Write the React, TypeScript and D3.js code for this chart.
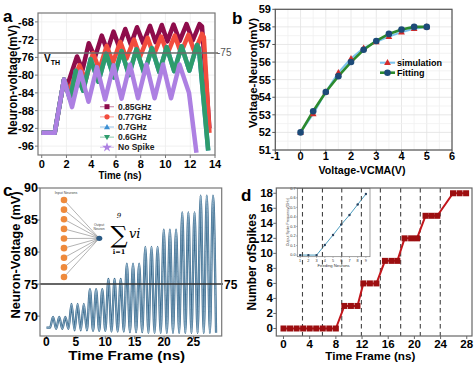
import React from 'react';
import * as d3 from 'd3';

const FONT = '"Liberation Sans", Arial, Helvetica, sans-serif';
const SERIF = '"DejaVu Serif", "Liberation Serif", serif';

// ---------------- Panel a ----------------
const aXTicks = [0, 2, 4, 6, 8, 10, 12, 14];
const aYTicks = [-68, -72, -76, -80, -84, -88, -92, -96];
const aLegend = ['0.85GHz', '0.77GHz', '0.7GHz', '0.6GHz', 'No Spike'];
const aColors = ['#8e0c4b', '#f24c3d', '#3b8fd3', '#2e9c6c', '#ad80e2'];
const aThreshold = -75;

const t085 = [0, 1.05, 1.8, 2.05, 2.85, 3.3, 3.8, 4.3, 4.85, 5.3, 5.8, 6.25, 6.75, 7.2, 7.7, 8.2, 8.75, 9.2, 9.7, 10.15, 10.65, 11.15, 11.7, 12.2, 12.75, 12.95, 13.55];
const v085 = [-93, -93, -81, -82.5, -75.8, -78.8, -72.8, -76, -71.1, -74.5, -70.2, -73.6, -69.6, -73.1, -69.2, -72.8, -68.9, -72.6, -68.7, -72.4, -68.6, -72.3, -68.5, -72.2, -68.5, -69, -92];

const t077 = [0, 1.05, 1.8, 2.2, 3.05, 3.55, 4.15, 4.65, 5.25, 5.75, 6.35, 6.85, 7.45, 7.95, 8.55, 9.05, 9.65, 10.15, 10.75, 11.25, 11.85, 12.35, 12.95, 13.1, 13.55];
const v077 = [-93, -93, -81, -83.5, -77.8, -81.2, -75, -78.8, -73.4, -77.2, -72.5, -76.3, -72, -75.8, -71.6, -75.5, -71.3, -75.2, -71.1, -75, -70.9, -74.8, -70.7, -71.5, -93];

const t070 = [0, 1.05, 1.8, 2.3, 2.75, 3.35, 3.95, 4.58, 5.2, 5.83, 6.45, 7.05, 7.65, 8.28, 8.9, 9.5, 10.1, 10.7, 11.3, 11.93, 12.55, 12.7, 13.45];
const v070 = [-93, -93, -81, -85.5, -79, -83.5, -76.4, -81.5, -75.2, -80.5, -74.6, -80, -74.2, -79.6, -73.9, -79.3, -73.7, -79.1, -73.5, -79, -73.2, -74, -97];

const t060 = [0, 1.05, 1.8, 2.3, 2.75, 3.35, 3.95, 4.58, 5.2, 5.83, 6.45, 7.05, 7.65, 8.28, 8.9, 9.5, 10.1, 10.7, 11.3, 11.93, 12.55, 12.7, 13.45];
const v060 = [-93, -93, -81, -85.5, -79, -83.5, -76.4, -81.5, -75.2, -80.5, -74.6, -80, -74.2, -79.6, -73.9, -79.3, -73.7, -79.1, -73.5, -79, -73.2, -74, -97];

const tNo = [0, 1.05, 1.8, 2.45, 3.13, 3.78, 4.46, 5.12, 5.8, 6.45, 7.13, 7.78, 8.46, 9.12, 9.8, 10.45, 11.13, 11.9, 12.5];
const vNo = [-93, -93, -81, -87.2, -79.2, -86, -78.2, -85.5, -77.8, -85.3, -77.6, -85.2, -77.6, -85.2, -77.6, -85.2, -77.6, -84, -97.5];

// ---------------- Panel b ----------------
const bXTicks = [-1, 0, 1, 2, 3, 4, 5, 6];
const bYTicks = [51, 52, 53, 54, 55, 56, 57, 58, 59];
const bVcma = [0, 0.5, 1, 1.5, 2, 2.5, 3, 3.5, 4, 4.5, 5];
const bSimulation = [52.0, 53.05, 54.3, 55.4, 56.2, 56.8, 57.15, 57.45, 57.7, 57.9, 58.0];
const bFitting = [52.0, 53.2, 54.3, 55.2, 56.0, 56.7, 57.2, 57.6, 57.85, 58.0, 58.0];

// ---------------- Panel c ----------------
const cXTicks = [0, 5, 10, 15, 20, 25];
const cYTicks = [70, 75, 80, 85, 90];
const cThreshold = 75;
const cPeakT = [1.12, 2.17, 3.21, 4.26, 5.3, 6.35, 7.4, 8.44, 9.49, 10.53, 11.58, 12.63, 13.67, 14.72, 15.76, 16.81, 17.86, 18.9, 19.95, 20.99, 22.04, 23.09, 24.13, 25.18, 26.22, 27.27, 28.32];
const cPeakV = [69.9, 69.9, 69.9, 71.9, 71.9, 71.9, 74.2, 74.2, 74.2, 75.8, 75.8, 75.8, 78.2, 78.2, 78.2, 80.8, 80.8, 80.8, 83.5, 83.5, 83.5, 86.2, 86.2, 86.2, 88.8, 88.8, 88.8];
const cTroughT = [0.6, 1.645, 2.69, 3.735, 4.78, 5.825, 6.875, 7.92, 8.965, 10.01, 11.055, 12.105, 13.15, 14.195, 15.24, 16.285, 17.335, 18.38, 19.425, 20.47, 21.515, 22.565, 23.61, 24.655, 25.7, 26.745, 27.795, 28.84];
const cTroughV = [68.2, 68.0, 68.0, 68.0, 67.8, 67.8, 67.8, 67.7, 67.7, 67.7, 67.6, 67.6, 67.6, 67.5, 67.5, 67.5, 67.4, 67.4, 67.4, 67.4, 67.4, 67.4, 67.4, 67.4, 67.4, 67.4, 67.4, 67.4];
const cInputs = [1, 2, 3, 4, 5, 6, 7, 8, 9];

// ---------------- Panel d ----------------
const dXTicks = [0, 4, 8, 12, 16, 20, 24, 28];
const dYTicks = [0, 2, 4, 6, 8, 10, 12, 14, 16, 18];
const dFrames = [0, 1, 2, 3, 4, 5, 6, 7, 8, 9.3, 10.3, 11.3, 12.2, 13.2, 14.2, 15.5, 16.5, 17.4, 18.5, 19.5, 20.4, 21.7, 22.6, 23.5, 25.9, 26.9, 27.9];
const dSpikes = [0, 0, 0, 0, 0, 0, 0, 0, 0, 3, 3, 3, 6, 6, 6, 9, 9, 9, 12, 12, 12, 15, 15, 15, 18, 18, 18];
const dDashes = [2.9, 5.95, 8.9, 11.9, 14.8, 17.9, 20.9, 23.95];
const insetNeurons = [1, 2, 3, 4, 5, 6, 7, 8, 9];
const insetFreq = [0, 0, 0, 0.105, 0.21, 0.32, 0.42, 0.53, 0.64];
const insetYTicks = [0, 0.1, 0.2, 0.3, 0.4, 0.5, 0.6, 0.7];

type Pt = [number, number];
const zip = (a: number[], b: number[]): Pt[] => a.map((v, i) => [v, b[i]] as Pt);

function Frame({ x0, x1, y0, y1, color = '#666' }: any) {
  return <rect x={x0} y={y0} width={x1 - x0} height={y1 - y0} fill="none" stroke={color} strokeWidth={1.2} />;
}

function PanelA() {
  const x = d3.scaleLinear().domain([-0.3, 14]).range([38, 215]);
  const y = d3.scaleLinear().domain([-98, -66]).range([155, 13]);
  const line = d3.line<Pt>().x(d => x(d[0])).y(d => y(d[1]));
  const series = [zip(t085, v085), zip(t077, v077), zip(t070, v070), zip(t060, v060), zip(tNo, vNo)];
  const legY = d3.scaleLinear().domain([0, 4]).range([106.7, 147.3]);
  return (
    <g>
      <defs>
        <clipPath id="clipA"><rect x={38} y={13} width={177} height={142} /></clipPath>
      </defs>
      {aXTicks.map(t => <line key={'gx' + t} x1={x(t)} x2={x(t)} y1={13} y2={155} stroke="#eeeeee" strokeWidth={0.8} />)}
      {aYTicks.map(t => <line key={'gy' + t} x1={38} x2={215} y1={y(t)} y2={y(t)} stroke="#eeeeee" strokeWidth={0.8} />)}
      <g clipPath="url(#clipA)">
        {series.map((s, i) => (
          <path key={i} d={line(s) || ''} fill="none" stroke={aColors[i]} strokeWidth={4.5} strokeLinejoin="round" />
        ))}
      </g>
      <line x1={38} x2={218} y1={y(aThreshold)} y2={y(aThreshold)} stroke="#6a6a6a" strokeWidth={1.6} />
      <text x={217} y={y(aThreshold) + 3.5} fontSize={10} fill="#555" fontFamily={FONT}>{aThreshold}</text>
      <text x={44} y={62} fontSize={10} fontWeight="bold" fontFamily={FONT}>V<tspan fontSize={7} dy={2.5}>TH</tspan></text>
      <Frame x0={38} x1={215} y0={13} y1={155} color="#777" />
      {aXTicks.map(t => (
        <g key={'xt' + t}>
          <line x1={x(t)} x2={x(t)} y1={155} y2={158} stroke="#777" />
          <text x={x(t)} y={168} fontSize={11} fontWeight="bold" textAnchor="middle" fontFamily={FONT}>{t}</text>
        </g>
      ))}
      {aYTicks.map(t => (
        <g key={'yt' + t}>
          <line x1={35} x2={38} y1={y(t)} y2={y(t)} stroke="#777" />
          <text x={34} y={y(t) + 3.9} fontSize={11} fontWeight="bold" textAnchor="end" fontFamily={FONT}>{t}</text>
        </g>
      ))}
      {aLegend.map((name, i) => {
        const ly = legY(i);
        const c = aColors[i];
        let marker;
        if (i === 0) marker = <rect x={104.5} y={ly - 2.5} width={5} height={5} fill={c} />;
        else if (i === 1) marker = <circle cx={107} cy={ly} r={2.6} fill={c} />;
        else if (i === 2) marker = <path d={`M107,${ly - 3} L110,${ly + 2.2} L104,${ly + 2.2} Z`} fill={c} />;
        else if (i === 3) marker = <path d={`M107,${ly + 3} L110,${ly - 2.2} L104,${ly - 2.2} Z`} fill={c} />;
        else marker = <path d={d3.symbol(d3.symbolStar, 30)() || ''} transform={`translate(107,${ly})`} fill={c} />;
        return (
          <g key={name}>
            <line x1={100} x2={114} y1={ly} y2={ly} stroke={c} strokeOpacity={0.45} strokeWidth={1.2} />
            {marker}
            <text x={118} y={ly + 3} fontSize={8.5} fontWeight="bold" fontFamily={FONT} fill="#222">{name}</text>
          </g>
        );
      })}
      <text x={120} y={179} fontSize={11} fontWeight="bold" textAnchor="middle" fontFamily={FONT} textLength={43} lengthAdjust="spacingAndGlyphs">Time (ns)</text>
      <text transform="translate(16.5,80) rotate(-90)" fontSize={12} fontWeight="bold" textAnchor="middle" fontFamily={FONT} textLength={110} lengthAdjust="spacingAndGlyphs">Neuron-voltage(mV)</text>
      <text x={3} y={22} fontSize={17} fontWeight="bold" fontFamily={FONT}>a</text>
    </g>
  );
}

function PanelB() {
  const x = d3.scaleLinear().domain([-1, 6]).range([275.3, 452]);
  const y = d3.scaleLinear().domain([51, 59]).range([150, 9.3]);
  const line = d3.line<Pt>().x(d => x(d[0])).y(d => y(d[1]));
  const sim = zip(bVcma, bSimulation);
  const fit = zip(bVcma, bFitting);
  const minorX = d3.range(-1, 6.01, 0.5);
  const minorY = d3.range(51, 59.01, 0.5);
  return (
    <g>
      {minorX.map(t => <line key={'mx' + t} x1={x(t)} x2={x(t)} y1={9.3} y2={150} stroke={Number.isInteger(t) ? '#e2e2e2' : '#f0f0f0'} strokeWidth={0.8} />)}
      {minorY.map(t => <line key={'my' + t} x1={275.3} x2={452} y1={y(t)} y2={y(t)} stroke={Number.isInteger(t) ? '#e2e2e2' : '#f0f0f0'} strokeWidth={0.8} />)}
      <path d={line(sim) || ''} fill="none" stroke="#7cc3ec" strokeWidth={2} />
      <path d={line(fit) || ''} fill="none" stroke="#2b8a2e" strokeWidth={2.6} />
      {sim.map((d, i) => (
        <path key={'s' + i} d={`M${x(d[0])},${y(d[1]) - 3.6} L${x(d[0]) + 3.4},${y(d[1]) + 2.4} L${x(d[0]) - 3.4},${y(d[1]) + 2.4} Z`} fill="#d32b2b" />
      ))}
      {fit.map((d, i) => (
        <circle key={'f' + i} cx={x(d[0])} cy={y(d[1])} r={3.3} fill="#1d4a78" />
      ))}
      <Frame x0={275.3} x1={452} y0={9.3} y1={150} color="#555" />
      {bXTicks.map(t => (
        <g key={'xt' + t}>
          <line x1={x(t)} x2={x(t)} y1={150} y2={153} stroke="#555" />
          <text x={x(t)} y={160} fontSize={11} fontWeight="bold" textAnchor="middle" fontFamily={FONT}>{t}</text>
        </g>
      ))}
      {bYTicks.map(t => (
        <g key={'yt' + t}>
          <line x1={272.3} x2={275.3} y1={y(t)} y2={y(t)} stroke="#555" />
          <text x={271} y={y(t) + 3.9} fontSize={11} fontWeight="bold" textAnchor="end" fontFamily={FONT}>{t}</text>
        </g>
      ))}
      <line x1={380} x2={395} y1={62.7} y2={62.7} stroke="#7cc3ec" strokeWidth={2} />
      <path d={`M387.5,59.1 L390.9,65.1 L384.1,65.1 Z`} fill="#d32b2b" />
      <text x={397} y={65.9} fontSize={9} fontWeight="bold" fontFamily={FONT}>simulation</text>
      <line x1={380} x2={395} y1={72.7} y2={72.7} stroke="#2b8a2e" strokeWidth={2.6} />
      <circle cx={387.5} cy={72.7} r={3.3} fill="#1d4a78" />
      <text x={397} y={75.9} fontSize={9} fontWeight="bold" fontFamily={FONT}>Fitting</text>
      <text x={362} y={173.5} fontSize={11} fontWeight="bold" textAnchor="middle" fontFamily={FONT} textLength={87} lengthAdjust="spacingAndGlyphs">Voltage-VCMA(V)</text>
      <text transform="translate(256.5,73) rotate(-90)" fontSize={11.5} fontWeight="bold" textAnchor="middle" fontFamily={FONT} textLength={110} lengthAdjust="spacingAndGlyphs">Voltage-Neuron(mV)</text>
      <text x={232} y={24} fontSize={17} fontWeight="bold" fontFamily={FONT}>b</text>
    </g>
  );
}

function PanelC() {
  const x = d3.scaleLinear().domain([-1.1, 29.8]).range([40, 221.7]);
  const y = d3.scaleLinear().domain([66.9, 90]).range([336, 188]);
  const pts: Pt[] = [[0, cTroughV[0]]];
  cPeakT.forEach((t, i) => {
    pts.push([cTroughT[i], cTroughV[i]]);
    pts.push([t, cPeakV[i]]);
  });
  pts.push([cTroughT[cTroughT.length - 1], cTroughV[cTroughV.length - 1]]);
  const line = d3.line<Pt>().x(d => x(d[0])).y(d => y(d[1])).curve(d3.curveMonotoneX);
  const pd = line(pts) || '';
  const outX = 99.3, outY = 238.3;
  const inY = d3.scaleLinear().domain([1, 9]).range([200, 277]);
  return (
    <g>
      <defs>
        <clipPath id="clipC"><rect x={40} y={188} width={181.7} height={148} /></clipPath>
      </defs>
      <g clipPath="url(#clipC)">
        <path d={pd} fill="none" stroke="#3a6a8d" strokeWidth={2.3} strokeLinejoin="round" />
        <path d={pd} fill="none" stroke="#a9c6da" strokeWidth={0.7} strokeLinejoin="round" />
      </g>
      <line x1={40} x2={223} y1={y(cThreshold)} y2={y(cThreshold)} stroke="#333" strokeWidth={1.5} />
      <text x={224} y={y(cThreshold) + 4.5} fontSize={12} fontWeight="bold" fontFamily={FONT}>{cThreshold}</text>
      <Frame x0={40} x1={221.7} y0={188} y1={336} color="#777" />
      {cXTicks.map(t => (
        <g key={'xt' + t}>
          <line x1={x(t)} x2={x(t)} y1={336} y2={339} stroke="#777" />
          <text x={x(t)} y={346} fontSize={12} fontWeight="bold" textAnchor="middle" fontFamily={FONT}>{t}</text>
        </g>
      ))}
      {cYTicks.map(t => (
        <g key={'yt' + t}>
          <line x1={37} x2={40} y1={y(t)} y2={y(t)} stroke="#777" />
          <text x={38} y={y(t) + 4.4} fontSize={12.5} fontWeight="bold" textAnchor="end" fontFamily={FONT}>{t}</text>
        </g>
      ))}
      {/* inset network */}
      {cInputs.map(k => (
        <line key={'l' + k} x1={64} y1={inY(k)} x2={outX} y2={outY} stroke="#666" strokeWidth={0.5} />
      ))}
      {cInputs.map(k => (
        <circle key={'n' + k} cx={64} cy={inY(k)} r={3.3} fill="#ee8a3c" />
      ))}
      <ellipse cx={outX} cy={outY} rx={3} ry={2.6} fill="#2b5b86" />
      <text x={66} y={194} fontSize={3.6} textAnchor="middle" fontFamily={FONT} fill="#444">Input Neurons</text>
      <text x={99} y={226} fontSize={3.4} textAnchor="middle" fontFamily={FONT} fill="#444">Output</text>
      <text x={99} y={230} fontSize={3.4} textAnchor="middle" fontFamily={FONT} fill="#444">Neuron</text>
      <text x={119} y={243} fontSize={24} textAnchor="middle" fontFamily={SERIF}>∑</text>
      <text x={119} y={218} fontSize={7} textAnchor="middle" fontFamily={SERIF} fontStyle="italic">9</text>
      <text x={119} y={254} fontSize={6.5} textAnchor="middle" fontFamily={SERIF} fontWeight="bold">i=1</text>
      <text x={129} y={238} fontSize={13} fontFamily={SERIF} fontStyle="italic">vi</text>
      <text x={126.7} y={360} fontSize={12} fontWeight="bold" textAnchor="middle" fontFamily={FONT} textLength={117} lengthAdjust="spacingAndGlyphs">Time Frame (ns)</text>
      <text transform="translate(20,255) rotate(-90)" fontSize={12.5} fontWeight="bold" textAnchor="middle" fontFamily={FONT} textLength={127} lengthAdjust="spacingAndGlyphs">Neuron-Voltage (mV)</text>
      <text x={3} y={196} fontSize={17} fontWeight="bold" fontFamily={FONT}>c</text>
    </g>
  );
}

function PanelD() {
  const x = d3.scaleLinear().domain([-1.1, 28.8]).range([276.3, 472]);
  const y = d3.scaleLinear().domain([-1, 18.7]).range([336, 188]);
  const pts = zip(dFrames, dSpikes);
  const line = d3.line<Pt>().x(d => x(d[0])).y(d => y(d[1]));
  const ix = d3.scaleLinear().domain([0.65, 9.5]).range([297.3, 370]);
  const iy = d3.scaleLinear().domain([-0.017, 0.7]).range([256.7, 188.3]);
  const iline = d3.line<Pt>().x(d => ix(d[0])).y(d => iy(d[1]));
  const ipts = zip(insetNeurons, insetFreq);
  return (
    <g>
      {/* inset */}
      <rect x={297.3} y={188.3} width={72.7} height={68.4} fill="#fff" stroke="#777" strokeWidth={0.7} />
      <path d={iline(ipts) || ''} fill="none" stroke="#4d9dbf" strokeWidth={1} />
      {ipts.map((d, i) => <circle key={'ip' + i} cx={ix(d[0])} cy={iy(d[1])} r={1.2} fill="#2a4360" />)}
      {insetNeurons.map(t => (
        <g key={'ixt' + t}>
          <line x1={ix(t)} x2={ix(t)} y1={256.7} y2={258} stroke="#777" strokeWidth={0.5} />
          <text x={ix(t)} y={261.8} fontSize={3.8} textAnchor="middle" fontFamily={FONT} fill="#333">{t}</text>
        </g>
      ))}
      {insetYTicks.map(t => (
        <g key={'iyt' + t}>
          <line x1={296} x2={297.3} y1={iy(t)} y2={iy(t)} stroke="#777" strokeWidth={0.5} />
          <text x={295.5} y={iy(t) + 1.3} fontSize={3.8} textAnchor="end" fontFamily={FONT} fill="#333">{t.toFixed(1)}</text>
        </g>
      ))}
      <text x={333.6} y={267} fontSize={4.2} textAnchor="middle" fontFamily={FONT} fill="#333">Feeding Neurons</text>
      <text transform="translate(289,222) rotate(-90)" fontSize={3.6} textAnchor="middle" fontFamily={FONT} fill="#333">Output Spike Frequency(GHz)</text>
      {dDashes.map(t => (
        <line key={'dl' + t} x1={x(t)} x2={x(t)} y1={188} y2={336} stroke="#444" strokeWidth={1.1} strokeDasharray="4.5,3.5" />
      ))}
      <path d={line(pts) || ''} fill="none" stroke="#c2161c" strokeWidth={2} />
      {pts.map((d, i) => <rect key={'sq' + i} x={x(d[0]) - 3} y={y(d[1]) - 3} width={6} height={6} fill="#9c0e10" />)}
      <Frame x0={276.3} x1={472} y0={188} y1={336} color="#666" />
      {dXTicks.map(t => (
        <g key={'xt' + t}>
          <line x1={x(t)} x2={x(t)} y1={336} y2={339} stroke="#666" />
          <text x={x(t)} y={347.5} fontSize={11.5} fontWeight="bold" textAnchor="middle" fontFamily={FONT}>{t}</text>
        </g>
      ))}
      {dYTicks.map(t => (
        <g key={'yt' + t}>
          <line x1={273.3} x2={276.3} y1={y(t)} y2={y(t)} stroke="#666" />
          <text x={273} y={y(t) + 4} fontSize={11.5} fontWeight="bold" textAnchor="end" fontFamily={FONT}>{t}</text>
        </g>
      ))}
      <text x={370.3} y={360} fontSize={11.5} fontWeight="bold" textAnchor="middle" fontFamily={FONT} textLength={90} lengthAdjust="spacingAndGlyphs">Time Frame (ns)</text>
      <text transform="translate(256,262) rotate(-90)" fontSize={12} fontWeight="bold" textAnchor="middle" fontFamily={FONT} textLength={97} lengthAdjust="spacingAndGlyphs">Number ofSpikes</text>
      <text x={241} y={201} fontSize={17} fontWeight="bold" fontFamily={FONT}>d</text>
    </g>
  );
}

export default function App() {
  return (
    <svg width={474} height={365} viewBox="0 0 474 365" style={{ position: 'absolute', left: 0, top: 0, background: '#fff' }} fontFamily={FONT}>
      <rect x={0} y={0} width={474} height={365} fill="#fff" />
      <PanelA />
      <PanelB />
      <PanelC />
      <PanelD />
    </svg>
  );
}
